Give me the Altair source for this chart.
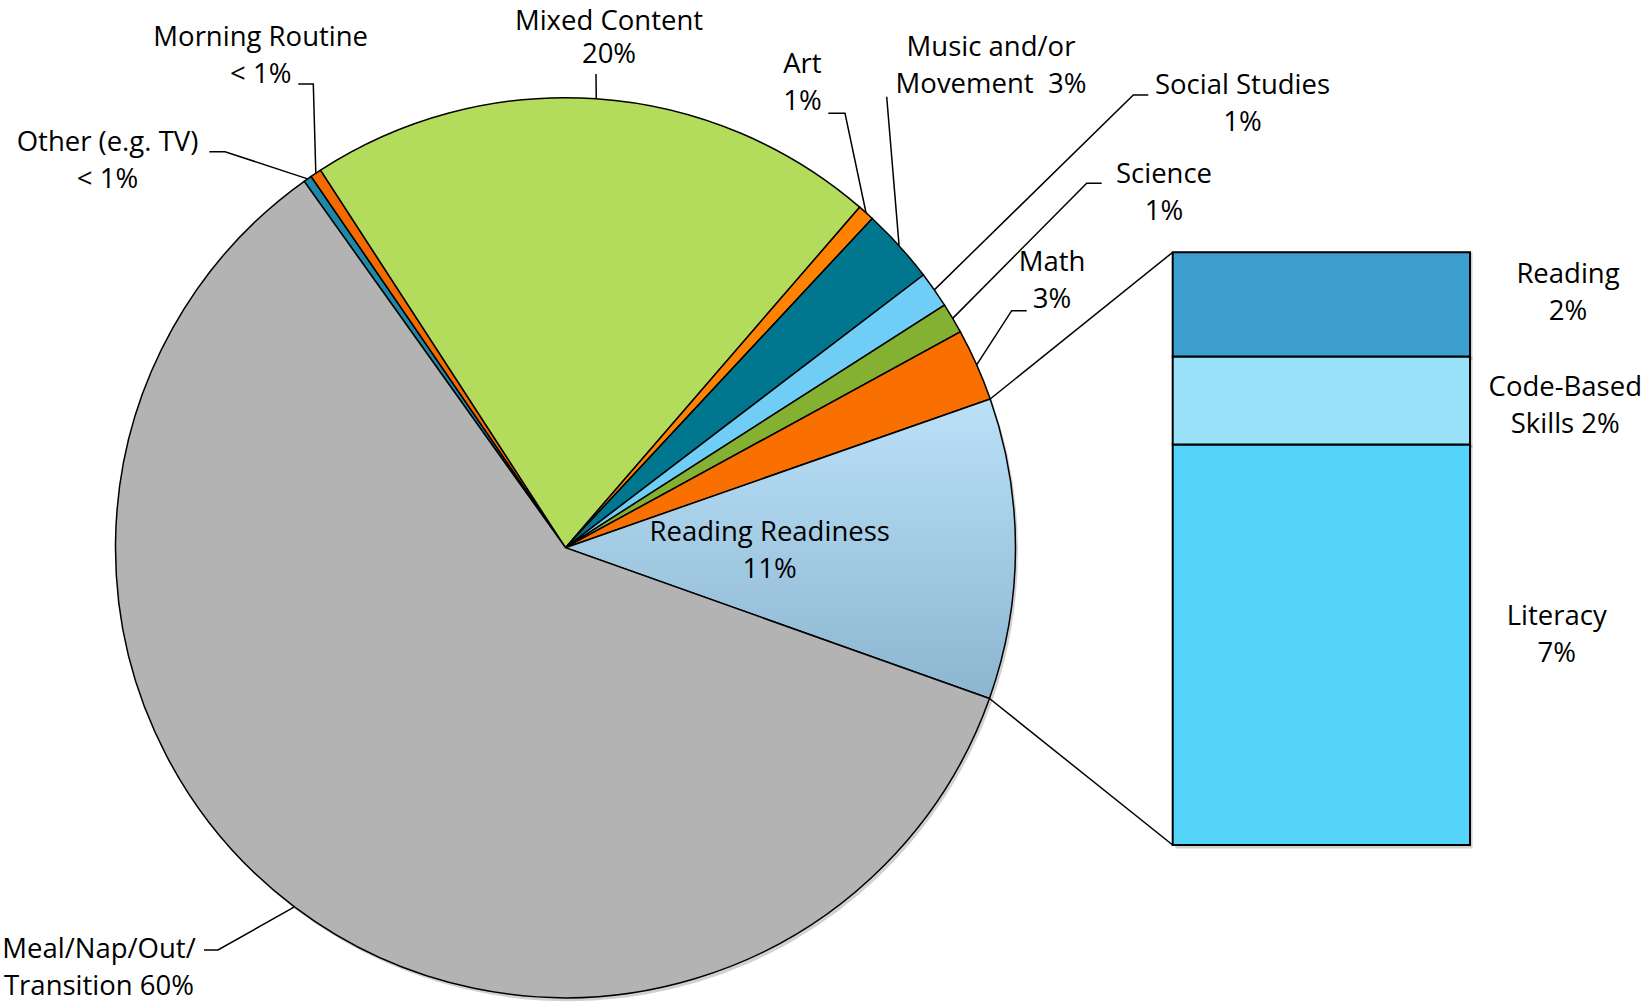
import math
import altair as alt
import pandas as pd

# ---------------- data ----------------
categories = ["Other (e.g. TV)", "Morning Routine", "Mixed Content", "Art",
              "Music and/or Movement", "Social Studies", "Science", "Math",
              "Reading Readiness", "Meal/Nap/Out/Transition"]
values = [0.3, 0.4, 20.5, 0.6, 2.7, 1.3, 1.1, 2.6, 10.8, 59.7]
label_lines = [["Other (e.g. TV)", "< 1%"], ["Morning Routine", "< 1%"],
               ["Mixed Content", "20%"], ["Art", "1%"],
               ["Music and/or", "Movement\u00a0 3%"], ["Social Studies", "1%"],
               ["Science", "1%"], ["Math", "3%"],
               ["Reading Readiness", "11%"], ["Meal/Nap/Out/", "Transition 60%"]]

sub_categories = ["Literacy", "Code-Based Skills", "Reading"]
sub_values = [7.3, 1.6, 1.9]
sub_label_lines = [["Literacy", "7%"], ["Code-Based", "Skills 2%"], ["Reading", "2%"]]

# ---------------- styles ----------------
colors = ["#1E88A8", "#F46A00", "#B3DB5C", "#FF8200", "#00778F",
          "#70CEF6", "#84B131", "#FA7000", "#A6CDE6", "#B3B3B3"]
sub_colors = ["#55D4F9", "#99E1F9", "#3D9FCF"]
RR_GRADIENT = {"gradient": "linear", "x1": 0, "y1": 0, "x2": 0, "y2": 1,
               "stops": [{"offset": 0, "color": "#BAE1F8"},
                         {"offset": 1, "color": "#8CB5D0"}]}
FONT = "Open Sans"
FONT_SIZE = 27.5

# ---------------- layout ----------------
W, H = 1642, 1008
CX, CY, R = 565.5, 547.7, 450
START_DEG = 125.5          # where the first slice starts (math angle), clockwise
BAR_X0, BAR_X1, BAR_TOP, BAR_BOTTOM = 1172.7, 1470, 252.3, 845
SHADOW_DX, SHADOW_DY = 2.5, 3.5

# (x centre, y of first line, y of second line)
label_pos = {
    "Other (e.g. TV)": (107.5, 143.3, 180.3),
    "Morning Routine": (260.7, 38.3, 75.3),
    "Mixed Content": (609, 21.5, 55),
    "Art": (802.4, 65, 102),
    "Music and/or Movement": (991, 48.3, 85.3),
    "Social Studies": (1242.5, 86, 123),
    "Science": (1164, 175, 212),
    "Math": (1052, 263.3, 300.3),
    "Reading Readiness": (769.7, 533, 570),
    "Meal/Nap/Out/Transition": (99, 950, 987),
}
leader_pts = {
    "Other (e.g. TV)": [(209.3, 151.7), (225, 151.7)],
    "Morning Routine": [(298.3, 84), (313.3, 84)],
    "Mixed Content": [(596, 74)],
    "Art": [(828.3, 113.3), (845, 113.3)],
    "Music and/or Movement": [(886.7, 96.7)],
    "Social Studies": [(1148.3, 95), (1133.3, 95)],
    "Science": [(1101.7, 183.3), (1086.7, 183.3)],
    "Math": [(1026.7, 310.7), (1011.7, 310.7)],
    "Meal/Nap/Out/Transition": [(204, 950), (218, 950)],
}
sub_label_pos = {
    "Reading": (1568, 275, 312),
    "Code-Based Skills": (1565.3, 388.3, 425.3),
    "Literacy": (1556.7, 617.3, 654.3),
}

# ---------------- tables ----------------
total = sum(values)
pie_df = pd.DataFrame({"category": categories, "value": values,
                       "ord": list(range(len(categories)))})

def circle_point(deg):
    return CX + R * math.cos(math.radians(deg)), CY - R * math.sin(math.radians(deg))

cum = 0.0
start_angle, mid_angle, end_angle = {}, {}, {}
for c, v in zip(categories, values):
    start_angle[c] = START_DEG - cum / total * 360
    mid_angle[c] = START_DEG - (cum + v / 2) / total * 360
    end_angle[c] = START_DEG - (cum + v) / total * 360
    cum += v

line_rows = []
for c, pts in leader_pts.items():
    allpts = list(pts) + [circle_point(mid_angle[c])]
    for i, (px, py) in enumerate(allpts):
        line_rows.append({"id": c, "pt": i, "x": px, "y": py})
rr = "Reading Readiness"
for i, (px, py) in enumerate([circle_point(start_angle[rr]), (BAR_X0, BAR_TOP)]):
    line_rows.append({"id": "conn_top", "pt": i, "x": px, "y": py})
for i, (px, py) in enumerate([circle_point(end_angle[rr]), (BAR_X0, BAR_BOTTOM)]):
    line_rows.append({"id": "conn_bot", "pt": i, "x": px, "y": py})
line_df = pd.DataFrame(line_rows)

text_rows = []
for c, lines in zip(categories, label_lines):
    lx, y1, y2 = label_pos[c]
    for t, ty in zip(lines, (y1, y2)):
        text_rows.append({"x": lx, "y": ty, "text": t})
for c, lines in zip(sub_categories, sub_label_lines):
    lx, y1, y2 = sub_label_pos[c]
    for t, ty in zip(lines, (y1, y2)):
        text_rows.append({"x": lx, "y": ty, "text": t})
text_df = pd.DataFrame(text_rows)

bar_df = pd.DataFrame({"sub": sub_categories, "value": sub_values,
                       "ord": list(range(len(sub_categories)))})

# ---------------- chart ----------------
t0 = math.radians(90 - START_DEG)
X = alt.X("x:Q", scale=alt.Scale(domain=[0, W], range=[0, W]), axis=None)
Y = alt.Y("y:Q", scale=alt.Scale(domain=[0, H], range=[0, H]), axis=None)
theta_enc = alt.Theta("value:Q", stack=True,
                      scale=alt.Scale(domain=[0, total], range=[t0, t0 + 2 * math.pi]))

pie_shadow = alt.Chart(pie_df).mark_arc(color="#000000", opacity=0.18).encode(
    theta=theta_enc, order=alt.Order("ord:Q"),
    x=alt.value(CX + SHADOW_DX), y=alt.value(CY + SHADOW_DY), radius=alt.value(R),
)

pie = alt.Chart(pie_df).mark_arc(stroke="black", strokeWidth=1.5).encode(
    theta=theta_enc,
    order=alt.Order("ord:Q"),
    fill=alt.condition(
        alt.datum.category == "Reading Readiness",
        alt.value(RR_GRADIENT),
        alt.Fill("category:N", scale=alt.Scale(domain=categories, range=colors), legend=None),
    ),
    x=alt.value(CX), y=alt.value(CY), radius=alt.value(R),
)

bar_y_scale = alt.Scale(domain=[0, sum(sub_values)], range=[BAR_BOTTOM, BAR_TOP])
bar_base = alt.Chart(bar_df).transform_stack(
    stack="value", as_=["v0", "v1"], groupby=[], sort=[alt.SortField("ord", order="ascending")]
)

bar_shadow = bar_base.mark_rect(color="#000000", opacity=0.18).encode(
    y=alt.Y("v0:Q", scale=bar_y_scale, axis=None), y2="v1:Q",
    x=alt.value(BAR_X0 + SHADOW_DX), x2=alt.value(BAR_X1 + SHADOW_DX),
    yOffset=alt.value(SHADOW_DY),
)

bar = bar_base.mark_rect(stroke="black", strokeWidth=2).encode(
    y=alt.Y("v0:Q", scale=bar_y_scale, axis=None), y2="v1:Q",
    x=alt.value(BAR_X0), x2=alt.value(BAR_X1),
    fill=alt.Fill("sub:N", scale=alt.Scale(domain=sub_categories, range=sub_colors), legend=None),
)

lines = alt.Chart(line_df).mark_line(color="black", strokeWidth=1.5).encode(
    x=X, y=Y, detail="id:N", order="pt:Q"
)

texts = alt.Chart(text_df).mark_text(
    font=FONT, fontSize=FONT_SIZE, color="black", align="center", baseline="middle"
).encode(x=X, y=Y, text="text:N")

chart = alt.layer(lines, pie_shadow, pie, bar_shadow, bar, texts).resolve_scale(
    x="independent", y="independent", fill="independent", color="independent"
).properties(
    width=W, height=H, padding=0, autosize=alt.AutoSizeParams(type="none"),
    background="white"
).configure_view(stroke=None)

chart.save("out.html", embed_options={"renderer": "svg", "actions": False})
